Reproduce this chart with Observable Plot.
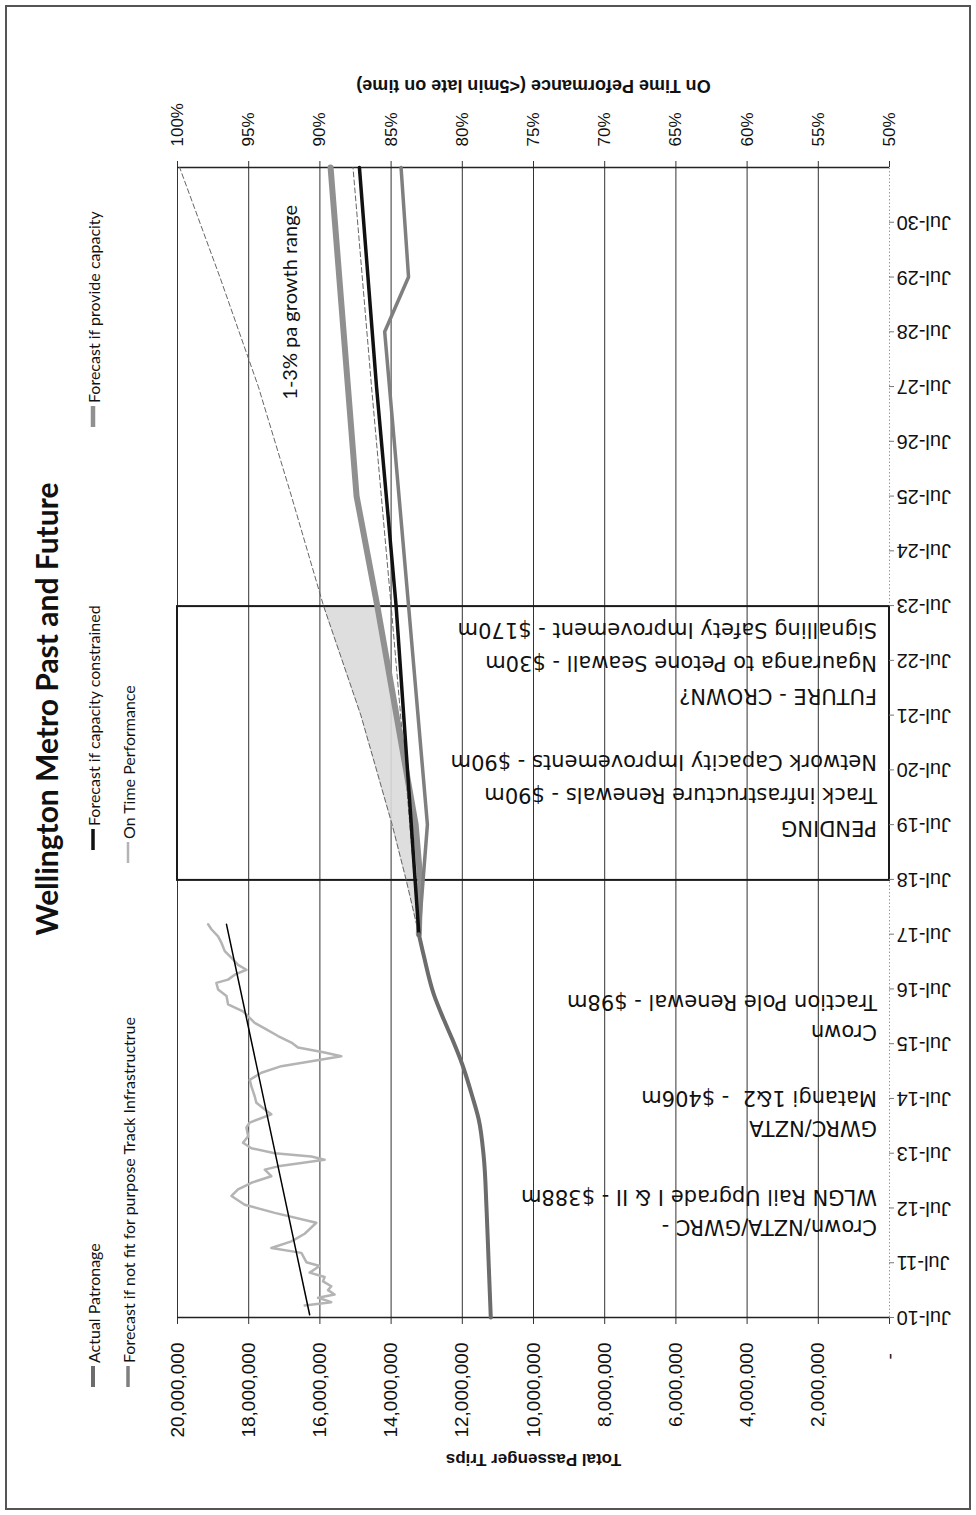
<!DOCTYPE html>
<html>
<head>
<meta charset="utf-8">
<script src="https://cdn.jsdelivr.net/npm/d3@7"></script>
<script src="https://cdn.jsdelivr.net/npm/@observablehq/plot@0.6"></script>
<style>
  html, body { margin: 0; padding: 0; background: #fff; overflow: hidden; width: 976px; height: 1515px; }
  /* The chart is laid out landscape and turned a quarter-turn to sit on the portrait page */
  #page { position: absolute; left: 0; top: 0; width: 1515px; height: 976px;
          transform-origin: 0 0; transform: translate(0px, 1515px) rotate(-90deg); background: #fff; }
  #frame { position: absolute; left: 5px; top: 5px; width: 1501px; height: 962px; border: 2px solid #555; }
  #chart { position: absolute; left: 0; top: 0; width: 1515px; height: 976px; }
  #title { position: absolute; left: 506px; width: 600px; top: 28px; text-align: center;
           font: bold 30px Lato, sans-serif; color: #111; }
  .leg { position: absolute; display: flex; align-items: center; height: 20px;
         font: 16px Lato, sans-serif; color: #111; white-space: nowrap; }
  .leg svg { margin-right: 3px; }
</style>
</head>
<body>
<div id="page">
  <div id="frame"></div>
  <div id="chart"></div>
  <div id="title">Wellington Metro Past and Future</div>
  <div id="legend"></div>
</div>
<script>
// ---- axis ticks ----
const dateLabels = ["Jul-10","Jul-11","Jul-12","Jul-13","Jul-14","Jul-15","Jul-16","Jul-17","Jul-18","Jul-19",
                    "Jul-20","Jul-21","Jul-22","Jul-23","Jul-24","Jul-25","Jul-26","Jul-27","Jul-28","Jul-29","Jul-30"];
const tripTicks = [0, 2, 4, 6, 8, 10, 12, 14, 16, 18, 20];          // millions of trips
const otpTicks = [50, 55, 60, 65, 70, 75, 80, 85, 90, 95, 100];      // percent on time

// ---- actual patronage (millions, decimal year) ----
const patronageYear  = [2010.5, 2011.5, 2012.5, 2013.45, 2014.12, 2014.54, 2015.12, 2015.58, 2015.94, 2016.4, 2017.1, 2017.5];
const patronageTrips = [11.2, 11.26, 11.32, 11.40, 11.54, 11.72, 12.0, 12.28, 12.52, 12.80, 13.08, 13.22];

// ---- forecasts (millions) ----
const provideDates = ["Jul-17","Jul-18","Jul-19","Jul-21","Jul-23","Jul-25","Jul-31"];
const provideTrips = [13.22, 13.18, 13.31, 13.85, 14.39, 14.97, 15.70];
const constrainedDates = ["Jul-17","Jul-23","Jul-27","Jul-31"];
const constrainedTrips = [13.22, 13.86, 14.41, 14.89];
const notFitDates = ["Jul-17","Jul-18","Jul-19","Jul-23","Jul-28","Jul-29","Jul-31"];
const notFitTrips = [13.22, 13.10, 12.98, 13.51, 14.18, 13.51, 13.72];
const growthHighDates = ["Jul-17","Jul-18","Jul-19","Jul-21","Jul-23","Jul-25","Jul-27","Jul-29","Jul-31"];
const growthHighTrips = [13.22, 13.58, 13.97, 14.85, 15.9, 16.8, 17.73, 18.81, 19.94];
const growthLowDates = ["Jul-17","Jul-20","Jul-23","Jul-27","Jul-31"];
const growthLowTrips = [13.22, 13.6, 14.0, 14.55, 15.07];
const bandDates = ["Jul-17","Jul-18","Jul-19","Jul-21","Jul-23"];

// ---- on time performance (%, decimal year) ----
const otpYear = [2010.72, 2010.78, 2010.86, 2010.92, 2011.0, 2011.07, 2011.16, 2011.24, 2011.32, 2011.44,
                 2011.51, 2011.68, 2011.77, 2011.89, 2012.03, 2012.23, 2012.41, 2012.56, 2012.72, 2012.84,
                 2012.96, 2013.08, 2013.2, 2013.26, 2013.32, 2013.38, 2013.44, 2013.5, 2013.59, 2013.69,
                 2013.81, 2013.97, 2014.06, 2014.21, 2014.3, 2014.42, 2014.54, 2014.72, 2014.84, 2014.97,
                 2015.09, 2015.18, 2015.27, 2015.34, 2015.43, 2015.52, 2015.64, 2015.76, 2015.88, 2016.0,
                 2016.09, 2016.22, 2016.37, 2016.49, 2016.61, 2016.67, 2016.76, 2016.85, 2016.94, 2017.04,
                 2017.19, 2017.34, 2017.46, 2017.59, 2017.68];
const otpPct = [91.07, 89.2, 90.13, 88.97, 89.43, 89.2, 89.78, 89.67, 90.72, 90.02,
                90.95, 91.3, 93.41, 92.0, 91.07, 90.25, 93.17, 95.28, 96.21, 95.75,
                94.81, 93.41, 93.87, 92.94, 91.3, 89.67, 90.6, 93.17, 94.81, 95.4,
                95.04, 95.16, 94.93, 93.41, 93.87, 94.46, 94.58, 94.81, 94.93, 94.11,
                92.71, 90.6, 88.5, 89.67, 91.54, 92.0, 92.94, 93.76, 94.58, 95.04,
                95.4, 96.45, 96.56, 97.15, 97.27, 96.45, 95.98, 95.16, 95.75, 96.1,
                96.68, 96.91, 97.15, 97.62, 97.85];
const otpTrendYear = [2010.55, 2017.68];
const otpTrendPct = [90.72, 96.56];

// ---- funding notes ----
const noteText = ["Crown/NZTA/GWRC -", "WLGN Rail Upgrade I & II - $388m",
                  "GWRC/NZTA", "Matangi 1&2 \u00a0- $406m",
                  "Crown", "Traction Pole Renewal - $98m",
                  "PENDING", "Track infrastructure Renewals - $90m", "Network Capacity Improvements - $90m",
                  "FUTURE - CROWN?", "Ngauranga to Petone Seawall - $30m", "Signalling Safety Improvement - $170m"];
const noteYear = [2012.16, 2012.71, 2013.97, 2014.52, 2015.72, 2016.27,
                  2019.45, 2020.05, 2020.65, 2021.86, 2022.46, 2023.06];
const pendingPeriod = ["Jul-18", "Jul-23"];
const growthNote = "1-3% pa growth range";

const legendLabels = ["Actual Patronage", "Forecast if not fit for purpose Track Infrastructrue",
                      "Forecast if capacity constrained", "On Time Performance", "Forecast if provide capacity"];

// ---- helpers ----
const yearOf = label => 2000 + Number(label.slice(4)) + 0.5;   // "Jul-17" -> 2017.5
const series = (dates, vals) => dates.map((d, i) => ({year: yearOf(d), v: vals[i]}));
const otpToTrips = pct => (pct - 50) * 0.4;                       // 50–100% shares the 0–20M range

const patronage = patronageYear.map((y, i) => ({year: y, v: patronageTrips[i]}));
const provide = series(provideDates, provideTrips);
const constrained = series(constrainedDates, constrainedTrips);
const notFit = series(notFitDates, notFitTrips);
const growthHigh = series(growthHighDates, growthHighTrips);
const growthLow = series(growthLowDates, growthLowTrips);
const band = bandDates.map(d => ({
  year: yearOf(d),
  low: provideTrips[provideDates.indexOf(d)],
  high: growthHighTrips[growthHighDates.indexOf(d)]
}));
const otp = otpYear.map((y, i) => ({year: y, pct: otpPct[i]}));
const otpTrend = otpTrendYear.map((y, i) => ({year: y, pct: otpTrendPct[i]}));
const notes = noteText.map((t, i) => ({text: t, year: noteYear[i]}));

const style = {
  patronage:   {stroke: "#6c6c6c", strokeWidth: 4},
  notFit:      {stroke: "#7f7f7f", strokeWidth: 3.5},
  constrained: {stroke: "#111111", strokeWidth: 3.5},
  otp:         {stroke: "#b4b4b4", strokeWidth: 2.5},
  provide:     {stroke: "#909090", strokeWidth: 6}
};

const chart = Plot.plot({
  width: 1515,
  height: 976,
  marginLeft: 197,
  marginRight: 168,
  marginTop: 177,
  marginBottom: 87,
  style: {fontFamily: "'Liberation Sans', Arial, sans-serif", fontSize: "19px", color: "#111", background: "transparent", overflow: "visible"},
  x: {domain: [2010.5, 2031.5], axis: null},
  y: {domain: [0, 20], axis: null},
  marks: [
    Plot.frame({stroke: "#9a9a9a", strokeDasharray: "1.5,2"}),
    Plot.gridY(tripTicks.filter(d => d > 0), {stroke: "#333", strokeOpacity: 1, strokeWidth: 1}),
    // shaded spread between the capacity forecast and the 3% growth path
    Plot.areaY(band, {x: "year", y1: "low", y2: "high", fill: "#dadada", fillOpacity: 0.9}),
    Plot.rect([pendingPeriod], {x1: d => yearOf(d[0]), x2: d => yearOf(d[1]), y1: 0, y2: 20,
                                fill: "none", stroke: "#1a1a1a", strokeWidth: 2}),
    Plot.ruleX([2010.5], {stroke: "#222", strokeWidth: 1.5}),
    Plot.ruleX([2031.5], {stroke: "#222", strokeWidth: 1.5}),
    Plot.axisY(tripTicks, {anchor: "left", tickSize: 6, tickPadding: 19, fontSize: 19, stroke: "#333",
                           tickFormat: d => d === 0 ? "-\u2007" : d3.format(",")(d * 1e6), label: null}),
    Plot.axisY(otpTicks, {anchor: "right", y: otpToTrips, tickSize: 6, tickPadding: 15, fontSize: 17, stroke: "#333",
                          tickFormat: d => d + "%", label: null}),
    Plot.axisX(dateLabels, {anchor: "bottom", x: yearOf, tickSize: 5, tickPadding: 2, tickRotate: -90,
                            fontSize: 20, stroke: "#777", tickFormat: d => d, label: null}),
    Plot.text(["Total Passenger Trips"], {frameAnchor: "left", dx: -142, rotate: -90, textAnchor: "middle",
                                          fontSize: 17, fontWeight: "bold"}),
    Plot.text(["On Time Peformance (<5min late on time)"], {frameAnchor: "right", dx: 82, rotate: -90, textAnchor: "middle",
                                                            fontSize: 18, fontWeight: "bold"}),
    // growth envelope
    Plot.line(growthHigh, {x: "year", y: "v", stroke: "#666", strokeWidth: 1, strokeDasharray: "5,3"}),
    Plot.line(growthLow, {x: "year", y: "v", stroke: "#666", strokeWidth: 1, strokeDasharray: "5,3"}),
    // forecasts
    Plot.line(provide, {x: "year", y: "v", ...style.provide}),
    Plot.line(notFit, {x: "year", y: "v", ...style.notFit}),
    Plot.line(constrained, {x: "year", y: "v", ...style.constrained}),
    // history
    Plot.line(patronage, {x: "year", y: "v", ...style.patronage, curve: "monotone-x"}),
    Plot.line(otp, {x: "year", y: d => otpToTrips(d.pct), ...style.otp, strokeLinejoin: "round"}),
    Plot.line(otpTrend, {x: "year", y: d => otpToTrips(d.pct), stroke: "#000", strokeWidth: 1.5}),
    // funding notes, written up the page from the zero line
    Plot.text(notes, {x: "year", y: () => 0.35, text: "text", rotate: -90, textAnchor: "start",
                      fontSize: 21, fontFamily: "'DejaVu Sans', Verdana, sans-serif", fill: "#111"}),
    Plot.text([growthNote], {x: () => 2027.26, y: () => 16.83, textAnchor: "start", fontSize: 20,
                             fontFamily: "Lato, sans-serif", fill: "#111"})
  ]
});
document.getElementById("chart").appendChild(chart);

// ---- legend ----
const legendLayout = [
  {key: "patronage",   left: 128,  top: 83},
  {key: "notFit",      left: 128,  top: 118},
  {key: "constrained", left: 665,  top: 83},
  {key: "otp",         left: 652,  top: 118},
  {key: "provide",     left: 1088, top: 83}
];
const legend = document.getElementById("legend");
legendLabels.forEach((label, i) => {
  const {key, left, top} = legendLayout[i];
  const s = style[key];
  const item = document.createElement("div");
  item.className = "leg";
  item.style.left = left + "px";
  item.style.top = top + "px";
  item.innerHTML = `<svg width="21" height="20"><line x1="0" y1="10" x2="21" y2="10" stroke="${s.stroke}" stroke-width="${Math.min(s.strokeWidth, 4.5)}"/></svg>`;
  item.appendChild(document.createTextNode(label));
  legend.appendChild(item);
});
</script>
</body>
</html>
